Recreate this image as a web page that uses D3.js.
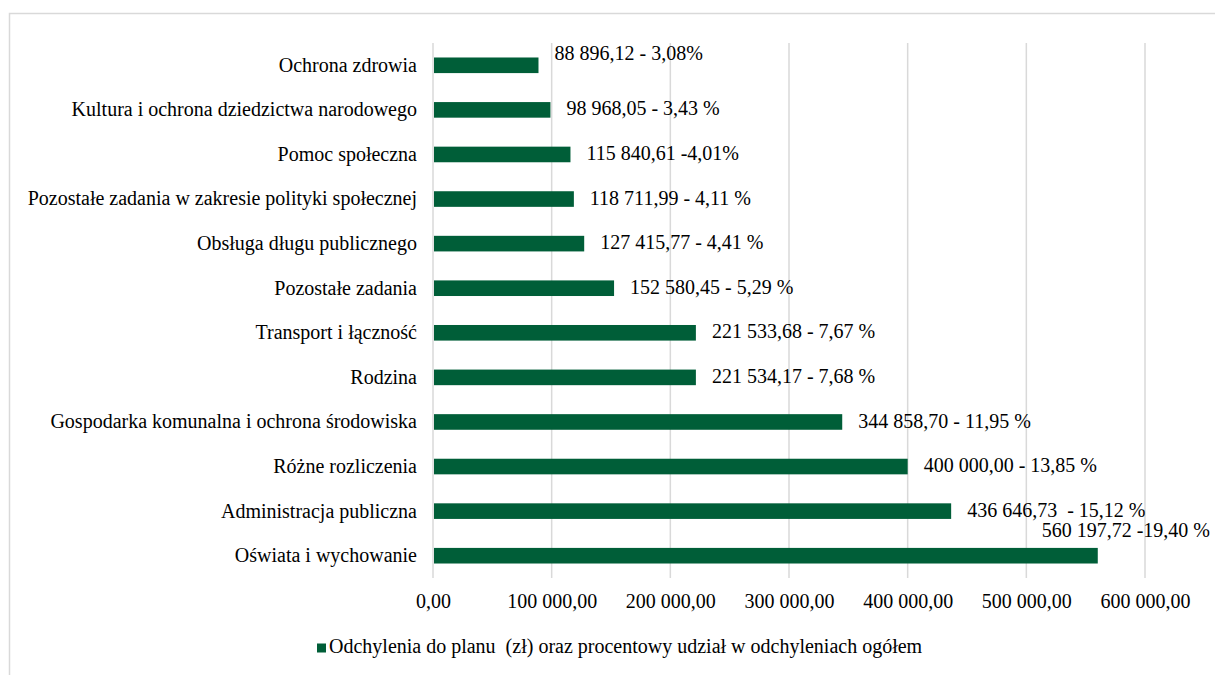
<!DOCTYPE html>
<html>
<head>
<meta charset="utf-8">
<script src="https://cdn.jsdelivr.net/npm/d3@7"></script>
<style>
  body { margin: 0; background: #fff; }
  svg { display: block; }
  svg text { font-family: "Liberation Serif", "DejaVu Serif", serif; }
</style>
</head>
<body>
<div id="chart"></div>
<script>
// categories from top to bottom
var categories = [
  "Ochrona zdrowia",
  "Kultura i ochrona dziedzictwa narodowego",
  "Pomoc społeczna",
  "Pozostałe zadania w zakresie polityki społecznej",
  "Obsługa długu publicznego",
  "Pozostałe zadania",
  "Transport i łączność",
  "Rodzina",
  "Gospodarka komunalna i ochrona środowiska",
  "Różne rozliczenia",
  "Administracja publiczna",
  "Oświata i wychowanie"
];
var values = [88896.12, 98968.05, 115840.61, 118711.99, 127415.77, 152580.45,
  221533.68, 221534.17, 344858.70, 400000.00, 436646.73, 560197.72];
var valueLabels = [
  "88 896,12 - 3,08%",
  "98 968,05 - 3,43 %",
  "115 840,61 -4,01%",
  "118 711,99 - 4,11 %",
  "127 415,77 - 4,41 %",
  "152 580,45 - 5,29 %",
  "221 533,68 - 7,67 %",
  "221 534,17 - 7,68 %",
  "344 858,70 - 11,95 %",
  "400 000,00 - 13,85 %",
  "436 646,73  - 15,12 %",
  "560 197,72 -19,40 %"
];
var xTicks = [0, 100000, 200000, 300000, 400000, 500000, 600000];
var legendLabel = "Odchylenia do planu  (zł) oraz procentowy udział w odchyleniach ogółem";

var W = 1215, H = 675;
var margin = {top: 43, right: 70, bottom: 97, left: 433};
var width = W - margin.left - margin.right,
    height = H - margin.top - margin.bottom;
var green = "#005e38";
var font = "\"Liberation Serif\", \"DejaVu Serif\", serif";
var fs = "20px";

var svg = d3.select("#chart").append("svg")
  .attr("width", W)
  .attr("height", H)
  .attr("font-family", font);

// outer chart border (only top and left visible)
svg.append("rect")
  .attr("x", 9.5).attr("y", 13.5)
  .attr("width", W + 10).attr("height", H + 10)
  .attr("fill", "none")
  .attr("stroke", "#d9d9d9")
  .attr("stroke-width", 1.5);

var g = svg.append("g")
  .attr("transform", "translate(" + margin.left + "," + margin.top + ")");

var x = d3.scaleLinear().domain([0, 600000]).range([0, 712]);
var y = d3.scaleBand().domain(categories).range([0, height])
  .paddingInner(0.65).paddingOuter(0.325);

// gridlines
g.selectAll("grid")
  .data(xTicks)
  .enter()
  .append("line")
    .attr("x1", function(d){ return x(d); })
    .attr("x2", function(d){ return x(d); })
    .attr("y1", 0)
    .attr("y2", height)
    .attr("stroke", "#d9d9d9")
    .attr("stroke-width", 1.5);

// x axis labels
var xAxis = g.append("g")
  .attr("transform", "translate(0," + height + ")")
  .call(d3.axisBottom(x).tickValues(xTicks).tickSize(0).tickPadding(16)
    .tickFormat(function(d){
      return d3.format(",.2f")(d).replace(/,/g, " ").replace(".", ",");
    }));
xAxis.attr("font-family", font).attr("font-size", fs);
xAxis.select(".domain").remove();
xAxis.selectAll("text").attr("fill", "#000");

// category labels
var yAxis = g.append("g")
  .call(d3.axisLeft(y).tickSize(0).tickPadding(16));
yAxis.attr("font-family", font).attr("font-size", fs);
yAxis.select(".domain").remove();
yAxis.selectAll("text").attr("fill", "#000");

// bars
g.selectAll("bars")
  .data(categories)
  .enter()
  .append("rect")
    .attr("x", x(0) + 1)
    .attr("y", function(d){ return y(d); })
    .attr("width", function(d, i){ return x(values[i]) - x(0) - 1; })
    .attr("height", y.bandwidth())
    .attr("fill", green);

// value labels
g.selectAll("vlabels")
  .data(categories)
  .enter()
  .append("text")
    .attr("x", function(d, i){
      if (i === categories.length - 1) return 777;
      return x(values[i]) + 16;
    })
    .attr("y", function(d, i){
      var c = y(d) + y.bandwidth() / 2;
      if (i === 0) return c - 10;
      if (i === categories.length - 1) return c - 23;
      return c + 1;
    })
    .attr("text-anchor", function(d, i){ return i === categories.length - 1 ? "end" : "start"; })
    .attr("dominant-baseline", "middle")
    .attr("font-size", fs)
    .style("white-space", "pre")
    .attr("fill", "#000")
    .text(function(d, i){ return valueLabels[i]; });

// legend
var legend = svg.append("g").attr("transform", "translate(317,648)");
legend.append("rect")
  .attr("x", 0).attr("y", -4.5)
  .attr("width", 9).attr("height", 9)
  .attr("fill", green);
legend.append("text")
  .attr("x", 12).attr("y", 0)
  .attr("dominant-baseline", "middle")
  .attr("font-size", fs)
  .style("white-space", "pre")
  .attr("fill", "#000")
  .text(legendLabel);
</script>
</body>
</html>
